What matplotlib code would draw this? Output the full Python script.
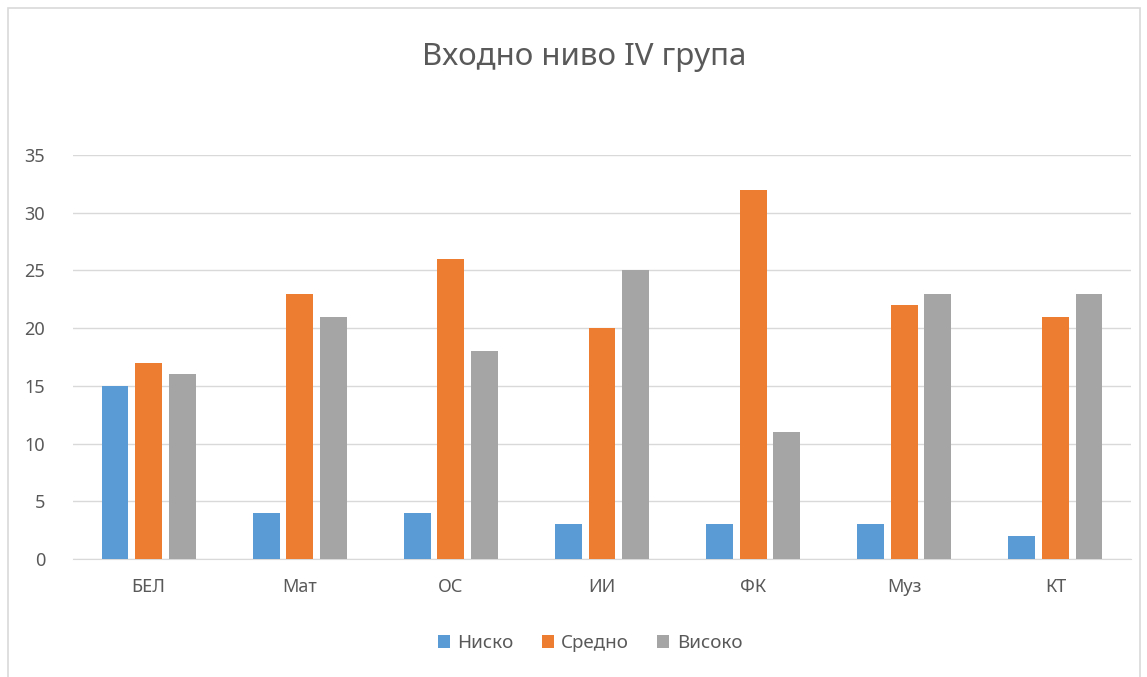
import matplotlib
matplotlib.use("Agg")
import matplotlib.pyplot as plt
import numpy as np
from matplotlib.patches import Rectangle

categories = ["БЕЛ", "Мат", "ОС", "ИИ", "ФК", "Муз", "КТ"]
nisko = [15, 4, 4, 3, 3, 3, 2]
sredno = [17, 23, 26, 20, 32, 22, 21]
visoko = [16, 21, 18, 25, 11, 23, 23]
series_names = ["Ниско", "Средно", "Високо"]
colors = ["#5B9BD5", "#ED7D31", "#A5A5A5"]
yticks = [0, 5, 10, 15, 20, 25, 30, 35]

plt.rcParams['font.family'] = ['Noto Sans', 'DejaVu Sans']
txt = "#595959"

fig = plt.figure(figsize=(11.47, 6.77), dpi=100)
W, H = 1147, 677
ax = fig.add_axes([73 / W, 1 - 559 / H, (1131 - 73) / W, (559 - 155) / H])

x = np.arange(len(categories))
bw = 0.178
step = 0.222
for i, (vals, name, c) in enumerate(zip([nisko, sredno, visoko], series_names, colors)):
    ax.bar(x + (i - 1) * step, vals, width=bw, color=c, label=name, zorder=3)

ax.set_xlim(-0.5, len(categories) - 0.5)
ax.set_ylim(0, 35)
ax.set_yticks(yticks)
ax.set_xticks(x)
ax.set_xticklabels(categories)
ax.grid(axis='y', color="#D9D9D9", linewidth=1, zorder=0)
for s in ['top', 'right', 'left']:
    ax.spines[s].set_visible(False)
ax.spines['bottom'].set_color("#D9D9D9")
ax.tick_params(axis='both', length=0, colors=txt, labelsize=13)
ax.tick_params(axis='y', pad=20)
ax.tick_params(axis='x', pad=14)

fig.text(584 / W, 1 - 57 / H, "Входно ниво IV група", ha='center', va='center',
         fontsize=22.5, color=txt)

leg = fig.legend(*ax.get_legend_handles_labels(), loc='center', bbox_to_anchor=(590 / W, 1 - 643 / H),
                 ncol=3, frameon=False, fontsize=13.5, handlelength=0.65, handleheight=0.65,
                 handletextpad=0.4, columnspacing=1.5, labelcolor=txt)

fig.patches.append(Rectangle((8 / W, -0.1), (1140 - 8) / W, 1.1 - 8 / H + 0.0,
                             transform=fig.transFigure, fill=False, edgecolor="#D9D9D9", linewidth=1.2))

fig.savefig("out.png", dpi=100)
